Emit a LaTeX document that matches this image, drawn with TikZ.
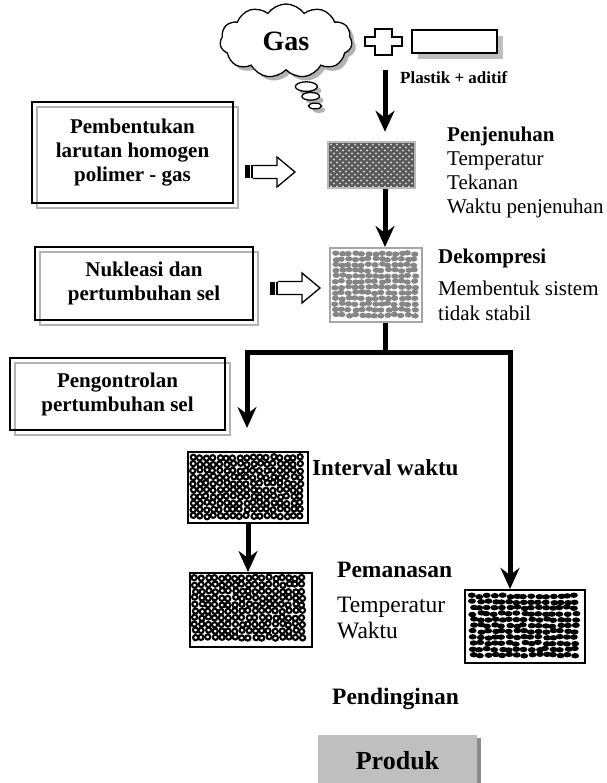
\documentclass[tikz,border=0pt]{standalone}
\usepackage{fontspec}
\setmainfont{Liberation Serif}
\usetikzlibrary{arrows.meta,shapes.callouts,shadows}

\newlength{\du}
\setlength{\du}{1pt}

\tikzset{
  flow/.style={line width=5\du, -{Stealth[length=21pt,width=19pt,inset=7pt]}},
  flowline/.style={line width=5\du},
  stepbox/.style={draw, line width=2.5\du, align=center, inner sep=0pt,
    font=\fontsize{21}{24}\selectfont\bfseries,
    general shadow={shadow xshift=5pt, shadow yshift=-5pt, draw=gray!60, line width=2pt}},
  samplebox/.style={draw, line width=2\du, inner sep=0pt},
  lbl/.style={anchor=base west, inner sep=0pt, align=left},
}

% hollow block arrow with a black tail, #1 = x of tail, #2 = y of axis
\newcommand{\blockarrow}[2]{%
  \fill (#1,#2-6.5) rectangle (#1+4.5,#2+6.5);
  \fill (#1+5.5,#2-6.5) rectangle (#1+7.5,#2+6.5);
  \draw[line width=1.3\du, line join=miter] (#1+7.5,#2-6.5) -- (#1+32,#2-6.5) -- (#1+32,#2-15)
    -- (#1+50,#2) -- (#1+32,#2+15) -- (#1+32,#2+6.5) -- (#1+7.5,#2+6.5);
}

\begin{document}
\begin{tikzpicture}[x=\du,y=-\du]
\useasboundingbox (0,0) rectangle (606,783);

% gas and plastic feed
\node[cloud callout, draw, line width=1.3\du, fill=white, cloud puffs=11, cloud puff arc=110,
  aspect=1.8, minimum width=132pt, minimum height=74pt, inner sep=0pt,
  callout absolute pointer={(315,106)}, callout pointer segments=3,
  drop shadow={shadow xshift=4pt, shadow yshift=-4pt, fill=gray!60, opacity=1},
  font=\fontsize{28}{30}\selectfont\bfseries] (gas) at (286,41) {Gas};
\draw[line width=1.3\du, fill=white] (375,29) -- (392,29) -- (392,37) -- (402,37) -- (402,46)
  -- (392,46) -- (392,55) -- (375,55) -- (375,46) -- (365,46) -- (365,37) -- (375,37) -- cycle;
\node[draw, line width=1.5\du, fill=white, minimum width=85pt, minimum height=23pt, inner sep=0pt,
  drop shadow={shadow xshift=6pt, shadow yshift=-6pt, fill=gray!50, opacity=1}] (plastik) at (454.5,41.5) {};
\node[lbl, font=\fontsize{17}{20}\selectfont\bfseries] (plastiklbl) at (400,84) {Plastik + aditif};
\coordinate (feed) at (385,70);

% saturated polymer
\node[draw=gray!55, fill=black!65, line width=2.5\du, minimum width=87pt, minimum height=46pt, inner sep=0pt] (satur) at (371.5,165) {};
\foreach \i in {0,...,13}{
  \foreach \j in {0,...,14}{
    \fill[gray!35] ({331+6*\i+3*mod(\j,2)},{144.5+3*\j}) circle (1.05);
  }
}
% base of a multi-line label = baseline of its last line
\node[lbl, font=\fontsize{21}{24}\selectfont] (satlbl) at (447,214) {\textbf{Penjenuhan}\\Temperatur\\Tekanan\\Waktu penjenuhan};

% decompression
\node[samplebox, draw=gray!70, minimum width=92pt, minimum height=74pt] (dekomp) at (376,285) {};
\pgfmathsetseed{7}
\foreach \i in {0,...,12}{
  \foreach \j in {0,...,11}{
    \fill[gray!95] ({335.5+6.6*\i+1.1*rand},{253.5+5.6*\j+0.8*rand}) ellipse [x radius=3.6, y radius=2.7];
  }
}
\node[lbl, font=\fontsize{21}{25}\selectfont\bfseries] (deklbl) at (438,264) {Dekompresi};
\node[lbl, font=\fontsize{21}{25}\selectfont] (deknote) at (438,320) {Membentuk sistem\\tidak stabil};

% process steps
\node[stepbox, minimum width=201pt, minimum height=101pt] (larutan) at (132.5,152.5) {Pembentukan\\larutan homogen\\polimer - gas};
\node[stepbox, minimum width=218pt, minimum height=73pt] (nukleasi) at (144,283.5) {Nukleasi dan\\pertumbuhan sel};
\node[stepbox, minimum width=215pt, minimum height=72pt] (ctrl) at (117.5,394) {Pengontrolan\\pertumbuhan sel};
\blockarrow{245}{172}
\blockarrow{270}{288}

\draw[flow, shorten >=9pt] (feed) -- (feed |- satur.north);
\draw[flow] (satur.south -| feed) -- (feed |- dekomp.north);

% split into the two routes
\coordinate (split) at (385,352);
\coordinate (lend) at (247,428);
\coordinate (rend) at (510,589);
\draw[flowline] (feed |- dekomp.south) -- (split);
\draw[flow] (split) -| (lend);
\draw[flow] (split) -| (rend);

% cell growth with time
\node[samplebox, minimum width=120pt, minimum height=71pt] (cellA) at (248,487.5) {};
\pgfmathsetseed{11}
\foreach \i in {0,...,16}{
  \foreach \j in {0,...,9}{
    \draw[line width=2.1\du] ({193+6.7*\i+0.8*rand},{457.5+6.5*\j+0.8*rand}) circle (2.6);
  }
}
\node[lbl, font=\fontsize{23}{26}\selectfont\bfseries] (intlbl) at (312,475) {Interval waktu};

\node[samplebox, minimum width=122pt, minimum height=74pt] (cellB) at (251,610) {};
\pgfmathsetseed{23}
\foreach \i in {0,...,16}{
  \foreach \j in {0,...,9}{
    \draw[line width=2.1\du] ({195+6.7*\i+0.8*rand},{578+6.6*\j+0.8*rand}) circle (2.6);
  }
}
\draw[flow] (cellA.south) -- (cellA.south |- cellB.north);

\node[lbl, font=\fontsize{23.5}{26}\selectfont\bfseries] (heatlbl) at (337,577) {Pemanasan};
\node[lbl, font=\fontsize{23.5}{26}\selectfont] (heatnote) at (337,638) {Temperatur\\Waktu};

% direct route
\node[samplebox, minimum width=120pt, minimum height=73pt] (cooled) at (525,626.5) {};
\pgfmathsetseed{5}
\foreach \i in {0,...,14}{
  \foreach \j in {0,...,10}{
    \fill ({473+7.3*\i+1.4*rand},{596+5.9*\j+0.9*rand}) ellipse [x radius=4, y radius=2.7];
  }
}

\node[lbl, font=\fontsize{23.5}{26}\selectfont\bfseries] (coollbl) at (332,704) {Pendinginan};
\node[fill=black!25, minimum width=159pt, minimum height=52pt, inner sep=0pt,
  drop shadow={shadow xshift=4pt, shadow yshift=-3pt, fill=black!45, opacity=1},
  font=\fontsize{26}{28}\selectfont\bfseries] (produk) at (397.5,761) {Produk};
\end{tikzpicture}
\end{document}
